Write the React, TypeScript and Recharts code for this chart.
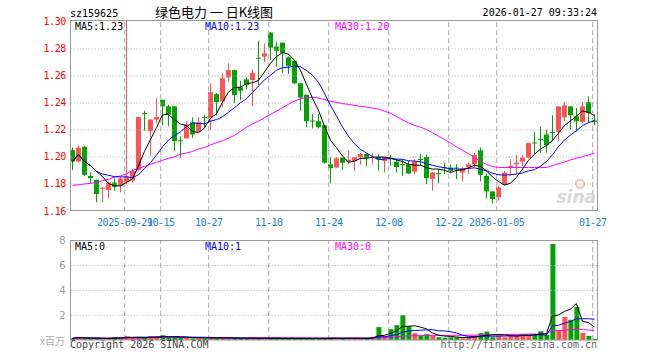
import React from "react";
import { ComposedChart, Bar, Line, XAxis, YAxis, ReferenceLine, Cell } from "recharts";

// daily candles, 2025-09-16 .. 2026-01-27
const openPrices = [
  1.2051, 1.1966, 1.2076, 1.186, 1.1831, 1.1765, 1.1755, 1.1811, 1.1787, 1.1817,
  1.1825, 1.1902, 1.2326, 1.2191, 1.2277, 1.2424, 1.2375, 1.2375, 1.2123, 1.2137,
  1.2257, 1.2186, 1.2296, 1.229, 1.2466, 1.2412, 1.259, 1.2644, 1.2516, 1.2575,
  1.257, 1.2735, 1.2743, 1.2921, 1.2817, 1.2847, 1.2738, 1.2713, 1.2546, 1.2461,
  1.227, 1.2265, 1.2235, 1.1946, 1.1922, 1.1995, 1.1963, 1.197, 1.1998, 1.2022,
  1.1995, 1.2, 1.197, 1.199, 1.1966, 1.1948, 1.1946, 1.1892, 1.1985, 1.2,
  1.1838, 1.188, 1.1924, 1.1922, 1.1922, 1.1885, 1.1926, 1.1946, 1.2049, 1.186,
  1.1745, 1.1701, 1.1799, 1.1922, 1.1946, 1.1966, 1.1995, 1.2108, 1.2135, 1.2167,
  1.2186, 1.2186, 1.2294, 1.2375, 1.2301, 1.226, 1.2407, 1.227,
];
const highPrices = [
  1.2069, 1.2086, 1.2083, 1.1885, 1.1831, 1.178, 1.1819, 1.1843, 1.1853, 1.3015,
  1.191, 1.2298, 1.2343, 1.228, 1.2436, 1.2424, 1.2387, 1.2375, 1.2154, 1.2265,
  1.2294, 1.2296, 1.2314, 1.2546, 1.2473, 1.262, 1.2694, 1.2644, 1.2565, 1.259,
  1.2649, 1.2861, 1.2842, 1.2925, 1.2854, 1.2847, 1.2745, 1.2713, 1.2546, 1.2461,
  1.2318, 1.2318, 1.2235, 1.2, 1.2, 1.1995, 1.2049, 1.2, 1.203, 1.2025,
  1.203, 1.202, 1.2, 1.2015, 1.1983, 1.1983, 1.197, 1.1983, 1.2025, 1.202,
  1.1885, 1.1909, 1.1958, 1.1946, 1.1946, 1.1926, 1.1958, 1.2032, 1.2069, 1.1877,
  1.1745, 1.1787, 1.1897, 1.1983, 1.2015, 1.2015, 1.2105, 1.2186, 1.2225, 1.2203,
  1.2309, 1.2375, 1.2407, 1.2375, 1.2363, 1.2407, 1.2448, 1.2318,
];
const lowPrices = [
  1.1902, 1.1958, 1.186, 1.1806, 1.1664, 1.1666, 1.1694, 1.175, 1.1738, 1.18,
  1.181, 1.19, 1.2195, 1.2007, 1.225, 1.2235, 1.2228, 1.2044, 1.1995, 1.2137,
  1.2142, 1.2186, 1.222, 1.22, 1.2309, 1.2368, 1.2558, 1.2398, 1.2422, 1.2501,
  1.2378, 1.2533, 1.2701, 1.2718, 1.2669, 1.2624, 1.2615, 1.254, 1.234, 1.2221,
  1.2211, 1.2211, 1.195, 1.1804, 1.1922, 1.1909, 1.1944, 1.1897, 1.1944, 1.1933,
  1.1944, 1.1897, 1.1885, 1.1934, 1.1885, 1.186, 1.1873, 1.1873, 1.1934, 1.1799,
  1.175, 1.1804, 1.1873, 1.1885, 1.1836, 1.1822, 1.1873, 1.1926, 1.1819, 1.1694,
  1.1655, 1.1677, 1.1787, 1.186, 1.1873, 1.1934, 1.199, 1.202, 1.2032, 1.2032,
  1.2118, 1.2118, 1.2265, 1.2203, 1.2191, 1.2252, 1.2252, 1.2235,
];
const closePrices = [
  1.1966, 1.2069, 1.1868, 1.1843, 1.1726, 1.1772, 1.1811, 1.178, 1.1841, 1.1854,
  1.1895, 1.2296, 1.2318, 1.2277, 1.2296, 1.2375, 1.2314, 1.2118, 1.2118, 1.224,
  1.2167, 1.2257, 1.229, 1.248, 1.2407, 1.2583, 1.2644, 1.2459, 1.2491, 1.2533,
  1.2624, 1.2728, 1.2768, 1.281, 1.2787, 1.2772, 1.2674, 1.2546, 1.244, 1.2265,
  1.2262, 1.2221, 1.1958, 1.1917, 1.199, 1.1958, 1.198, 1.1998, 1.2022, 1.1993,
  1.2, 1.1983, 1.2, 1.1983, 1.1926, 1.1944, 1.1878, 1.1966, 1.198, 1.1843,
  1.1885, 1.1878, 1.1922, 1.1897, 1.1917, 1.1917, 1.1946, 1.2015, 1.1868, 1.1745,
  1.1689, 1.1775, 1.1885, 1.1934, 1.1958, 1.1995, 1.2105, 1.2103, 1.213, 1.2088,
  1.2184, 1.2375, 1.2382, 1.2309, 1.2265, 1.2375, 1.2326, 1.226,
];
// MA30 as drawn (the chart's window starts after the average's history)
const ma30Price = [
  1.179, 1.1795, 1.18, 1.1805, 1.181, 1.1825, 1.1835, 1.185, 1.186, 1.1875,
  1.19, 1.1915, 1.193, 1.1945, 1.196, 1.1975, 1.199, 1.2, 1.202, 1.203,
  1.204, 1.206, 1.207, 1.209, 1.2105, 1.212, 1.214, 1.216, 1.219, 1.222,
  1.2245, 1.2265, 1.229, 1.2315, 1.234, 1.2365, 1.239, 1.2415, 1.243, 1.244,
  1.2442, 1.2437, 1.2425, 1.2413, 1.2405, 1.2395, 1.239, 1.2382, 1.2375, 1.237,
  1.2362, 1.2355, 1.234, 1.2325, 1.23, 1.2275, 1.2255, 1.2235, 1.222, 1.2205,
  1.218, 1.2155, 1.213, 1.2105, 1.2075, 1.205, 1.2025, 1.1995, 1.197, 1.1945,
  1.193, 1.1922, 1.1922, 1.1922, 1.1922, 1.1922, 1.1922, 1.1922, 1.1922, 1.1922,
  1.1935, 1.195, 1.1962, 1.1978, 1.199, 1.2003, 1.2015, 1.2028,
];
// volume, millions
const volumes = [
  0.13, 0.25, 0.13, 0.13, 0.13, 0.08, 0.14, 0.25, 0.18, 0.33,
  0.2, 0.2, 0.18, 0.3, 0.3, 0.38, 0.2, 0.2, 0.2, 0.2,
  0.13, 0.15, 0.13, 0.2, 0.13, 0.2, 0.15, 0.14, 0.12, 0.12,
  0.18, 0.14, 0.12, 0.14, 0.12, 0.12, 0.13, 0.12, 0.14, 0.12,
  0.13, 0.12, 0.14, 0.19, 0.14, 0.14, 0.14, 0.14, 0.14, 0.14,
  0.25, 1.04, 0.33, 0.88, 1.2, 2.0, 1.1, 0.55, 0.36, 0.47,
  0.36, 0.22, 0.19, 0.22, 0.22, 0.14, 0.22, 0.36, 0.55, 0.68,
  0.22, 0.36, 0.22, 0.36, 0.36, 0.49, 0.41, 0.41, 0.71, 0.41,
  7.73, 0.79, 1.86, 1.64, 2.66, 0.58, 0.33, 0.08,
];

const tickIndex = [9, 15, 23, 33, 43, 53, 63, 71, 87];
const tickLabels = ["2025-09-29", "10-15", "10-27", "11-10", "11-24", "12-08", "12-22", "2026-01-05", "01-27"];
const priceTicks = [1.16, 1.18, 1.2, 1.22, 1.24, 1.26, 1.28, 1.3];
const priceGrid = [1.18, 1.2, 1.22, 1.24, 1.26, 1.28];
const volTicks = [2, 4, 6, 8];
const volGrid = [2, 4, 6];

const RED = "#ff5252";
const GREEN = "#00a300";
const GRID = "#aaaaaa";
const MONO = "'DejaVu Sans Mono', monospace";
const GRID_SHIFT = 0.28; // date lines sit just left of the candle

function movingAvg(arr: number[], n: number) {
  return arr.map((_, i) => {
    const w = arr.slice(Math.max(0, i - n + 1), i + 1);
    return w.reduce((a, b) => a + b, 0) / w.length;
  });
}

const ma5 = movingAvg(closePrices, 5);
const ma10 = movingAvg(closePrices, 10);
const vma5 = movingAvg(volumes, 5);
const vma10 = movingAvg(volumes, 10);
const vma30 = movingAvg(volumes, 30);

const rows = closePrices.map((c, i) => ({
  idx: i,
  open: openPrices[i],
  high: highPrices[i],
  low: lowPrices[i],
  close: c,
  range: [lowPrices[i], highPrices[i]],
  ma5: ma5[i],
  ma10: ma10[i],
  ma30: ma30Price[i],
  vol: volumes[i],
  vma5: vma5[i],
  vma10: vma10[i],
  vma30: vma30[i],
}));

const gridX = tickIndex.map((i) => i - GRID_SHIFT);

function Candle(props: any) {
  const { x, y, width, height, payload } = props;
  const top = Math.min(y, y + height);
  const bot = Math.max(y, y + height);
  const { open, close, high, low } = payload;
  const span = high - low;
  const py = (v: number) => (span > 0 ? top + ((high - v) / span) * (bot - top) : top);
  const color = close >= open ? RED : GREEN;
  const cx = Math.floor(x + width / 2) + 0.5;
  const bTop = py(Math.max(open, close));
  const bBot = py(Math.min(open, close));
  return (
    <g>
      <line x1={cx} x2={cx} y1={top} y2={bot} stroke={color} strokeWidth={1} />
      <rect x={cx - 2.5} y={bTop} width={5} height={Math.max(1, bBot - bTop)} fill={color} />
    </g>
  );
}

function PriceTick(props: any) {
  return (
    <text x={props.x} y={props.y + 3.5} textAnchor="end" fill="#ff0000" fontSize={10} fontFamily={MONO} letterSpacing={-0.5}>
      {Number(props.payload.value).toFixed(2)}
    </text>
  );
}

function VolTick(props: any) {
  return (
    <text x={props.x} y={props.y + 3.5} textAnchor="end" fill="#999" fontSize={10} fontFamily="'DejaVu Sans', sans-serif">
      {props.payload.value}
    </text>
  );
}

function DateTick(props: any) {
  return (
    <text x={props.x} y={props.y + 14.5} textAnchor="middle" fill="#1a80d6" fontSize={10} fontFamily={MONO} letterSpacing={-0.5}>
      {tickLabels[props.index]}
    </text>
  );
}

const xDomain: [number, number] = [-0.283, 87.55];

export default function App() {
  return (
    <div style={{ position: "absolute", left: 0, top: 0, width: 660, height: 360, background: "#fff" }}>
      <div style={{ position: "absolute", left: 0, top: 0 }}>
        <ComposedChart width={660} height={230} data={rows} margin={{ top: 20, right: 62.3, bottom: 0, left: 20.7 }}>
          <XAxis
            dataKey="idx"
            type="number"
            domain={xDomain}
            ticks={gridX}
            interval={0}
            tick={<DateTick />}
            tickLine={false}
            axisLine={false}
            tickSize={0}
            tickMargin={0}
            height={19}
            allowDataOverflow
          />
          <YAxis
            domain={[1.16, 1.30147]}
            ticks={priceTicks}
            tick={<PriceTick />}
            tickLine={false}
            axisLine={false}
            tickSize={0}
            tickMargin={5}
            width={50}
            allowDataOverflow
          />
          {priceGrid.map((v) => (
            <ReferenceLine key={"h" + v} y={v} stroke={GRID} strokeDasharray="1 2" />
          ))}
          {gridX.map((v) => (
            <ReferenceLine key={"v" + v} x={v} stroke={GRID} strokeDasharray="5 3" />
          ))}
          <Bar dataKey="range" barSize={5} shape={<Candle />} isAnimationActive={false} />
          <Line type="linear" dataKey="ma30" stroke="#ff00ff" strokeWidth={1} dot={false} isAnimationActive={false} />
          <Line type="linear" dataKey="ma10" stroke="#0000ff" strokeWidth={1} dot={false} isAnimationActive={false} />
          <Line type="linear" dataKey="ma5" stroke="#000000" strokeWidth={1} dot={false} isAnimationActive={false} />
        </ComposedChart>
      </div>
      <div style={{ position: "absolute", left: 0, top: 230 }}>
        <ComposedChart width={660} height={130} data={rows} margin={{ top: 10.7, right: 62.3, bottom: 20, left: 20.7 }}>
          <XAxis dataKey="idx" type="number" domain={xDomain} hide allowDataOverflow />
          <YAxis
            domain={[0, 8]}
            ticks={volTicks}
            tick={<VolTick />}
            tickLine={false}
            axisLine={false}
            tickSize={0}
            tickMargin={5}
            width={50}
          />
          {volGrid.map((v) => (
            <ReferenceLine key={"h" + v} y={v} stroke={GRID} strokeDasharray="1 2" />
          ))}
          {gridX.map((v) => (
            <ReferenceLine key={"v" + v} x={v} stroke={GRID} strokeDasharray="5 3" />
          ))}
          <Bar dataKey="vol" barSize={5} isAnimationActive={false}>
            {rows.map((r, i) => (
              <Cell key={i} fill={r.close >= r.open ? RED : GREEN} />
            ))}
          </Bar>
          <Line type="linear" dataKey="vma30" stroke="#ff00ff" strokeWidth={1} dot={false} isAnimationActive={false} />
          <Line type="linear" dataKey="vma10" stroke="#0000ff" strokeWidth={1} dot={false} isAnimationActive={false} />
          <Line type="linear" dataKey="vma5" stroke="#000000" strokeWidth={1} dot={false} isAnimationActive={false} />
        </ComposedChart>
      </div>
      <svg width={660} height={360} style={{ position: "absolute", left: 0, top: 0, pointerEvents: "none" }}>
        <rect x={70.5} y={20.5} width={527} height={190} fill="none" stroke="#999" />
        <rect x={70.5} y={240.5} width={527} height={99.5} fill="none" stroke="#999" />
        <text x={70} y={17} fontSize={10} fontFamily={MONO} fill="#000">sz159625</text>
        <text x={214} y={17} textAnchor="middle" fontSize={13} fontFamily="'Noto Sans CJK SC', sans-serif" fill="#000">
          绿色电力 一 日K线图
        </text>
        <text x={597} y={16} textAnchor="end" fontSize={10} fontFamily={MONO} fill="#000">2026-01-27 09:33:24</text>
        <text x={75} y={30} fontSize={10} fontFamily={MONO} fill="#000">MA5:1.23</text>
        <text x={205} y={30} fontSize={10} fontFamily={MONO} fill="#0000ff">MA10:1.23</text>
        <text x={335} y={30} fontSize={10} fontFamily={MONO} fill="#ff00ff">MA30:1.20</text>
        <text x={75} y={250} fontSize={10} fontFamily={MONO} fill="#000">MA5:0</text>
        <text x={205} y={250} fontSize={10} fontFamily={MONO} fill="#0000ff">MA10:1</text>
        <text x={335} y={250} fontSize={10} fontFamily={MONO} fill="#ff00ff">MA30:0</text>
        <text x={65} y={345} textAnchor="end" fontSize={10} fontFamily="'Noto Sans CJK SC', sans-serif" fill="#aaa">x百万</text>
        <text x={70} y={348} fontSize={10} fontFamily={MONO} fill="#444">Copyright 2026 SINA.COM</text>
        <text x={597} y={348} textAnchor="end" fontSize={10} fontFamily={MONO} fill="#666">http://finance.sina.com.cn</text>
        <text x={596} y={203} textAnchor="end" fontSize={17} fontWeight="bold" fontStyle="italic" fontFamily="'DejaVu Sans', sans-serif" fill="#cfcfcf" opacity={0.8}>
          sina
        </text>
        <circle cx={580} cy={184} r={4} fill="none" stroke="#f3b0b0" strokeWidth={2} opacity={0.8} />
      </svg>
    </div>
  );
}
